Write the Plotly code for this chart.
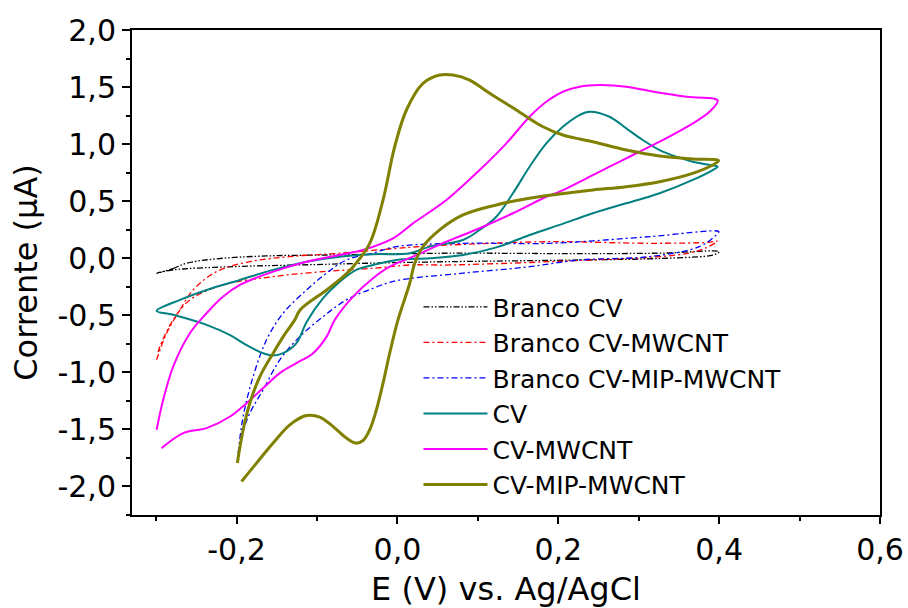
import plotly.graph_objects as go

# Cyclic voltammograms: potential (V vs. Ag/AgCl) and current (µA),
# anodic sweep followed by cathodic return sweep for each electrode.

branco_cv_e = [-0.2994, -0.2788, -0.2622, -0.225, -0.163, -0.08, 0.065, 0.23, 0.33, 0.4,
               0.3934, 0.334, 0.23, 0.065, -0.0385, -0.1208, -0.203, -0.2788, -0.2994]
branco_cv_i = [-0.131, -0.09, -0.044, -0.005, 0.02, 0.029, 0.044, 0.04, 0.045, 0.058,
               0.03, 0.0, -0.015, -0.03, -0.044, -0.059, -0.073, -0.102, -0.131]

branco_cv_mwcnt_e = [-0.2994, -0.287, -0.2704, -0.254, -0.2249, -0.1835, -0.1338, -0.0717, 0.0153,
                     0.065, 0.189, 0.3134, 0.388, 0.398,
                     0.3826, 0.363, 0.326, 0.243, 0.065, 0.0153, -0.0303, -0.0924, -0.1545,
                     -0.2166, -0.258, -0.2788, -0.2953, -0.2985]
branco_cv_mwcnt_i = [-0.89, -0.657, -0.453, -0.278, -0.117, -0.03, 0.014, 0.044, 0.096,
                     0.116, 0.145, 0.131, 0.14, 0.15,
                     0.088, 0.046, 0.014, -0.015, -0.059, -0.059, -0.088, -0.117, -0.161,
                     -0.234, -0.365, -0.54, -0.774, -0.85]

branco_cv_mip_e = [-0.198, -0.1918, -0.1794, -0.1627, -0.1421, -0.113, -0.0882, -0.0634, -0.0303,
                   -0.0012, 0.0815, 0.189, 0.3134, 0.3995,
                   0.3963, 0.3755, 0.3134, 0.2265, 0.1643, 0.0815, 0.0, -0.0303, -0.0634,
                   -0.0924, -0.1214, -0.1462, -0.167, -0.1835, -0.1959]
branco_cv_mip_i = [-1.708, -1.387, -1.037, -0.715, -0.482, -0.278, -0.131, -0.015, 0.044,
                   0.102, 0.131, 0.131, 0.189, 0.233,
                   0.204, 0.102, 0.014, -0.015, -0.074, -0.131, -0.195, -0.263, -0.365,
                   -0.511, -0.687, -0.891, -1.153, -1.357, -1.591]

cv_e = [-0.2994, -0.2704, -0.2373, -0.1959, -0.1545, -0.113, -0.0717, -0.0303, 0.0153, 0.0401,
        0.0815, 0.1022, 0.123, 0.1436, 0.1643, 0.1851, 0.2057, 0.2264, 0.2389, 0.2637, 0.2845,
        0.305, 0.326, 0.3466, 0.3672, 0.388, 0.398,
        0.392, 0.3672, 0.326, 0.2845, 0.243, 0.2016, 0.1643, 0.123, 0.0815, 0.0401, -0.0012,
        -0.0303, -0.051, -0.0717, -0.0924, -0.113, -0.1255, -0.142, -0.1545, -0.167,
        -0.1875, -0.208, -0.2373, -0.2788, -0.2994]
cv_i = [-0.461, -0.365, -0.278, -0.19, -0.102, -0.03, 0.014, 0.035, 0.044, 0.102,
        0.16, 0.248, 0.364, 0.569, 0.802, 1.007, 1.152, 1.255, 1.284, 1.24, 1.138,
        1.036, 0.948, 0.89, 0.846, 0.817, 0.802,
        0.773, 0.686, 0.569, 0.482, 0.394, 0.292, 0.204, 0.095, 0.029, 0.0, -0.015,
        -0.059, -0.102, -0.205, -0.35, -0.56, -0.744, -0.832, -0.853, -0.832,
        -0.762, -0.674, -0.584, -0.496, -0.461]

cv_mwcnt_e = [-0.2994, -0.2912, -0.2788, -0.258, -0.2373, -0.2166, -0.1959, -0.1545, -0.113,
              -0.0717, -0.0427, -0.0055, 0.0194, 0.0609, 0.1022, 0.1354, 0.1643, 0.1851,
              0.2057, 0.2265, 0.2513, 0.2845, 0.326, 0.3672, 0.392, 0.3983,
              0.388, 0.3672, 0.326, 0.2845, 0.243, 0.2016, 0.1851, 0.1436, 0.1022, 0.0609,
              0.0194, -0.0096, -0.0303, -0.0552, -0.0779, -0.088, -0.1048, -0.1255,
              -0.1462, -0.167, -0.1876, -0.208, -0.2373, -0.2663, -0.2932]
cv_mwcnt_i = [-1.503, -1.241, -0.949, -0.657, -0.482, -0.336, -0.234, -0.117, -0.03,
              0.029, 0.073, 0.175, 0.306, 0.51, 0.773, 1.007, 1.24, 1.371,
              1.459, 1.503, 1.517, 1.503, 1.45, 1.41, 1.401, 1.38,
              1.284, 1.182, 1.021, 0.876, 0.729, 0.583, 0.539, 0.394, 0.263, 0.145,
              0.014, -0.074, -0.175, -0.336, -0.54, -0.687, -0.832, -0.919,
              -1.007, -1.138, -1.27, -1.387, -1.489, -1.532, -1.664]

cv_mip_mwcnt_e = [-0.199, -0.1918, -0.1835, -0.171, -0.1545, -0.142, -0.1276, -0.121, -0.088,
                  -0.0696, -0.055, -0.0344, -0.0179,
                  -0.0034, 0.0112, 0.0318, 0.0525, 0.069, 0.0898, 0.1147, 0.1478, 0.181,
                  0.2057, 0.2265, 0.243, 0.2845, 0.326, 0.367, 0.3995,
                  0.392, 0.367, 0.326, 0.2845, 0.243, 0.2016, 0.164, 0.123, 0.0815, 0.0525,
                  0.0318, 0.0215, 0.0153, 0.0007, -0.0096, -0.0179, -0.0261, -0.0344,
                  -0.0427, -0.0518, -0.0634, -0.08, -0.0965, -0.113, -0.1338, -0.1545,
                  -0.1752, -0.1938]
cv_mip_mwcnt_i = [-1.795, -1.503, -1.27, -1.037, -0.832, -0.687, -0.54, -0.453, -0.278,
                  -0.175, -0.074, 0.131, 0.51,
                  0.977, 1.299, 1.532, 1.605, 1.605, 1.561, 1.445, 1.299, 1.152,
                  1.08, 1.045, 1.021, 0.948, 0.896, 0.87, 0.855,
                  0.817, 0.744, 0.671, 0.627, 0.598, 0.563, 0.525, 0.467, 0.379, 0.248,
                  0.102, -0.044, -0.219, -0.54, -0.832, -1.095, -1.328, -1.503,
                  -1.597, -1.62, -1.576, -1.475, -1.392, -1.378, -1.46, -1.62,
                  -1.795, -1.956]

# Tick positions and their comma-decimal labels (plain hyphen as minus sign)
x_tick_vals = [-0.2, 0.0, 0.2, 0.4, 0.6]
x_tick_text = ["-0,2", "0,0", "0,2", "0,4", "0,6"]
y_tick_vals = [-2.0, -1.5, -1.0, -0.5, 0.0, 0.5, 1.0, 1.5, 2.0]
y_tick_text = ["-2,0", "-1,5", "-1,0", "-0,5", "0,0", "0,5", "1,0", "1,5", "2,0"]

series = [
    ("Branco CV", branco_cv_e, branco_cv_i, "#000000", 1.3, "6px,2px,1.5px,2px,1.5px,2px"),
    ("Branco CV-MWCNT", branco_cv_mwcnt_e, branco_cv_mwcnt_i, "#FF0000", 1.3, "6px,3px,2px,3px"),
    ("Branco CV-MIP-MWCNT", branco_cv_mip_e, branco_cv_mip_i, "#0000FF", 1.3, "6px,3px,2px,3px"),
    ("CV", cv_e, cv_i, "#008080", 2.0, "solid"),
    ("CV-MWCNT", cv_mwcnt_e, cv_mwcnt_i, "#FF00FF", 2.0, "solid"),
    ("CV-MIP-MWCNT", cv_mip_mwcnt_e, cv_mip_mwcnt_i, "#808000", 3.0, "solid"),
]

FONT = "DejaVu Sans"

fig = go.Figure()
for name, e, i, color, width, dash in series:
    fig.add_trace(go.Scatter(
        x=e, y=i, mode="lines", name=name,
        line=dict(color=color, width=width, dash=dash, shape="spline", smoothing=1.0),
    ))

axis_common = dict(
    showline=True, linecolor="black", linewidth=2, mirror=True,
    ticks="outside", tickcolor="black", tickwidth=1.5,
    showgrid=False, zeroline=False, automargin=False,
    tickfont=dict(family=FONT, size=30, color="black"),
    title_font=dict(family=FONT, size=32, color="black"),
)

fig.update_layout(
    width=908, height=608,
    margin=dict(l=132, r=28, t=30, b=93),
    paper_bgcolor="white", plot_bgcolor="white",
    showlegend=True,
    legend=dict(
        x=0.383, y=0.476, xanchor="left", yanchor="top",
        bgcolor="rgba(0,0,0,0)", borderwidth=0,
        font=dict(family=FONT, size=25, color="black"),
        itemwidth=64, tracegroupgap=0,
    ),
    xaxis=dict(
        range=[-0.33, 0.6], tickmode="array", tickvals=x_tick_vals, ticktext=x_tick_text,
        ticklen=7,
        minor=dict(dtick=0.1, tick0=0, ticks="outside", ticklen=4, tickcolor="black", tickwidth=1.5),
        title=dict(text="E (V) vs. Ag/AgCl", standoff=16),
        **axis_common,
    ),
    yaxis=dict(
        range=[-2.25, 2.0], tickmode="array", tickvals=y_tick_vals, ticktext=y_tick_text,
        ticklen=8,
        minor=dict(dtick=0.25, tick0=0, ticks="outside", ticklen=4, tickcolor="black", tickwidth=1.5),
        title=dict(text="Corrente (µA)", standoff=10),
        **axis_common,
    ),
)

fig.write_html("out.html")
